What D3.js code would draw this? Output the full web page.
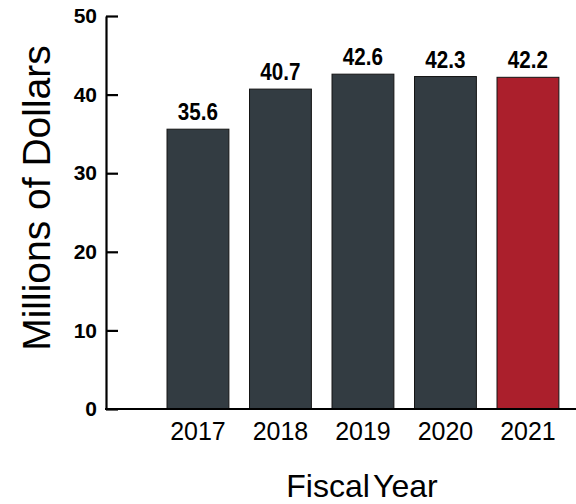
<!DOCTYPE html>
<html>
<head>
<meta charset="utf-8">
<script src="https://cdn.jsdelivr.net/npm/d3@7"></script>
<style>
html,body{margin:0;padding:0;background:#fff;}
svg{display:block;}
</style>
</head>
<body>
<svg id="chart" width="576" height="504"></svg>
<script>
const years = ["2017","2018","2019","2020","2021"];
const values = [35.6, 40.7, 42.6, 42.3, 42.2];
const highlight = ["2021"];
const yTicks = [0, 10, 20, 30, 40, 50];

const svg = d3.select("#chart");
const x = d3.scaleBand().domain(years).range([156.7, 569.2]).paddingInner(0.25).paddingOuter(0.125);
const y = d3.scaleLinear().domain([0, 50]).range([409, 16]);

// bars
svg.append("g").selectAll("rect").data(years).join("rect")
  .attr("x", d => x(d))
  .attr("y", (d,i) => y(values[i]))
  .attr("width", x.bandwidth())
  .attr("height", (d,i) => y(0) - y(values[i]))
  .attr("fill", d => highlight.includes(d) ? "#ab1f2c" : "#333c42")
  .attr("stroke", "#151515")
  .attr("stroke-width", 1);

// value labels (condensed bold)
svg.append("g").selectAll("text").data(years).join("text")
  .attr("transform", (d,i) => `translate(${x(d) + x.bandwidth()/2},${y(values[i]) - 9}) scale(0.86,1)`)
  .attr("text-anchor", "middle")
  .style("font-family", "'Liberation Sans', Arial, sans-serif")
  .style("font-weight", "bold")
  .style("font-size", "24px")
  .attr("fill", "#000")
  .text((d,i) => values[i].toFixed(1));

// y axis
const yAxis = d3.axisLeft(y).tickValues(yTicks).tickSizeInner(-12).tickSizeOuter(0).tickPadding(9);
const gy = svg.append("g").attr("transform", "translate(106,0)").call(yAxis);
gy.select(".domain").attr("stroke", "#000").attr("stroke-width", 2.2);
gy.selectAll(".tick line").attr("stroke", "#000").attr("stroke-width", 2.2);
gy.selectAll(".tick text")
  .style("font-family", "'Liberation Sans', Arial, sans-serif")
  .style("font-weight", "bold")
  .style("font-size", "21px")
  .attr("fill", "#000");

// x baseline
svg.append("line")
  .attr("x1", 105).attr("x2", 576)
  .attr("y1", y(0)).attr("y2", y(0))
  .attr("stroke", "#000").attr("stroke-width", 2.2);

// x tick labels
svg.append("g").selectAll("text").data(years).join("text")
  .attr("x", d => x(d) + x.bandwidth()/2)
  .attr("y", 440)
  .attr("text-anchor", "middle")
  .style("font-family", "'Liberation Sans', Arial, sans-serif")
  .style("font-size", "25px")
  .attr("fill", "#000")
  .text(d => d);

// axis titles
svg.append("text")
  .attr("x", 362).attr("y", 497)
  .attr("text-anchor", "middle")
  .style("font-family", "'Liberation Sans', Arial, sans-serif")
  .style("font-size", "32px")
  .style("word-spacing", "-5px")
  .attr("fill", "#000")
  .text("Fiscal Year");

svg.append("text")
  .attr("transform", "translate(50,198) rotate(-90)")
  .attr("text-anchor", "middle")
  .style("font-family", "'Liberation Sans', Arial, sans-serif")
  .style("font-size", "39px")
  .attr("fill", "#000")
  .text("Millions of Dollars");
</script>
</body>
</html>
